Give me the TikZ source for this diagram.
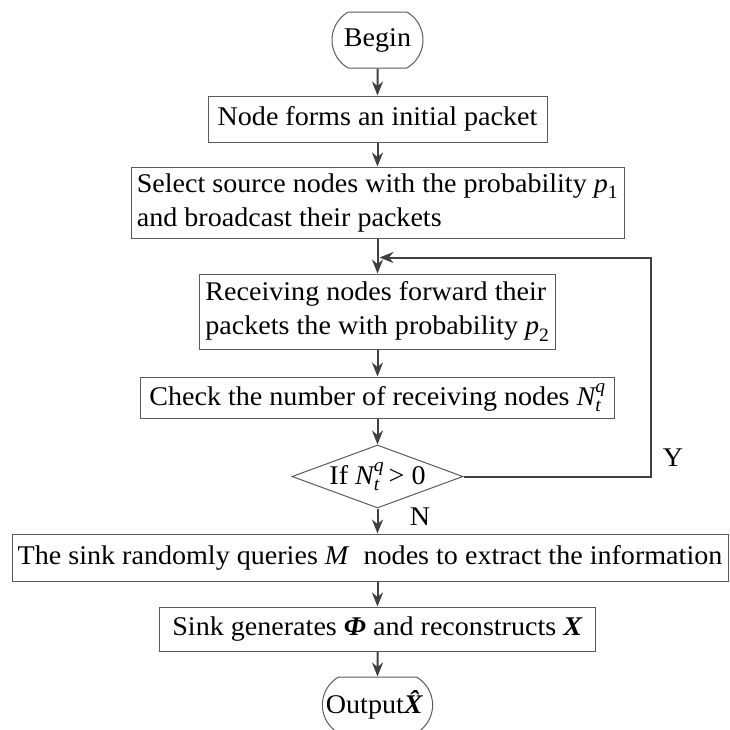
\documentclass[tikz,border=0pt]{standalone}
\usepackage{amsmath}
\usepackage{fontspec}
\setmainfont{Liberation Serif}[FakeStretch=1.04]
\usepackage{tikz}
\usetikzlibrary{positioning}
\usetikzlibrary{arrows.meta, shapes.geometric, shapes.misc}
\definecolor{linegray}{HTML}{404040}
\definecolor{boxgray}{HTML}{5A5A5A}
\newcommand{\mi}[1]{\textit{#1}}
\newcommand{\bmi}[1]{\textbf{\textit{#1}}}

\begin{document}
\begin{tikzpicture}[x=1pt,y=-1pt,
		process/.style={
			draw=boxgray,
			line width=1pt,
			rectangle,
			inner xsep=3pt,
			inner ysep=0pt,
			font=\fontsize{27}{34}\selectfont,
		},
		terminal/.style={
			draw=boxgray,
			line width=1pt,
			rounded rectangle,
			rounded rectangle arc length=120,
			inner sep=0pt,
			font=\fontsize{27}{34}\selectfont,
		},
		decision/.style={
			draw=boxgray,
			line width=1pt,
			diamond,
			aspect=2.7,
			inner sep=-6pt,
			font=\fontsize{27}{34}\selectfont,
		},
		flow/.style={draw=linegray, line width=2pt, -{Stealth[length=14pt,width=11pt]}},
		every node/.style={font=\fontsize{27}{34}\selectfont}]
		\clip (0,0) rectangle (730,729);
		\node[terminal, minimum width=91pt, minimum height=56pt] (begin) at (377.5,40) {Begin};
		\node[process, minimum width=339pt, minimum height=46pt] (init) at (377.5,119) {Node forms an initial packet};
		\node[process, minimum width=493pt, minimum height=71pt, align=left] (select) at (377.5,202.5)
			{Select source nodes with the probability $\mi{p}_{\text{1}}$\\and broadcast their packets};
		\node[process, minimum width=356pt, minimum height=75pt, align=left] (forward) at (377.5,311.5)
			{Receiving nodes forward their\\packets the with probability $\mi{p}_{\text{2}}$};
		\node[process, minimum width=474pt, minimum height=41pt] (check) at (377.5,397.5)
			{Check the number of receiving nodes ${\mi{N}}_{\mi{t}}^{\mi{q}}$};
		\node[decision, minimum width=171pt, minimum height=63pt] (cond) at (377.5,476.5)
			{If ${\mi{N}}_{\mi{t}}^{\mi{q}}$\,> 0};
		\node[process, minimum width=716pt, minimum height=47pt, inner xsep=1pt] (sink) at (370,557.5)
			{The sink randomly queries \mi{M}\ \ nodes to extract the information};
		\node[process, minimum width=436pt, minimum height=44pt] (recon) at (377.5,629)
			{Sink generates \bmi{Φ} and reconstructs \bmi{X}};
		\node[terminal, minimum width=108pt, minimum height=56pt] (output) at (377.5,705)
			{Output\bmi{\^{X}}};
		\coordinate (merge) at ([yshift=16pt]forward.north);

		\draw[flow] (begin) -- (init);
		\draw[flow] (init) -- (select);
		\draw[flow] (select) -- (forward);
		\draw[flow] (forward) -- (check);
		\draw[flow] (check) -- (cond);
		\draw[flow] (cond.south) -- (cond.south |- sink.north);
		\draw[flow] (sink.south -| recon.north) -- (recon);
		\draw[flow] (recon) -- (output);
		\draw[flow] (cond.east) -- ++(187.5,0) |- ([xshift=2pt]merge);

		\node (yes) at (673,458) {Y};
		\node (no) at (420,517) {N};
\end{tikzpicture}
\end{document}
